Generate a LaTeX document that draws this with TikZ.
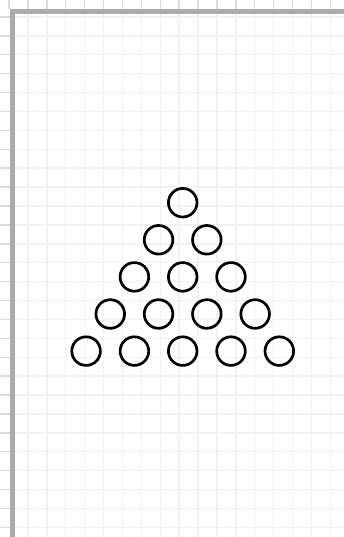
\documentclass[tikz,border=0pt]{standalone}
\begin{document}
\begin{tikzpicture}[x=1pt,y=-1pt,
  ball/.style={circle,draw=black,line width=2.7pt,minimum size=28.6pt,inner sep=0pt},
  gridline/.style={draw=black!5,line width=1.4pt},
  rulerline/.style={draw=black!14,line width=1.4pt}]
\useasboundingbox (0,0) rectangle (344,537);
\fill[white] (0,0) rectangle (344,537);
% interior grid
\foreach \k in {1,...,18} {\draw[gridline] ({9+18.9*\k},14) -- ({9+18.9*\k},537);}
\foreach \k in {0,...,27} {\draw[gridline] (15,{17+18.9*\k}) -- (344,{17+18.9*\k});}
% ruler strips
\foreach \k in {0,...,18} {\draw[rulerline] ({9+18.9*\k},0) -- ({9+18.9*\k},9);}
\foreach \k in {0,...,27} {\draw[rulerline] (0,{17+18.9*\k}) -- (10,{17+18.9*\k});}
% border
\draw[draw=black!33,line width=5pt] (12.5,537) -- (12.5,11.5) -- (344,11.5);
% balls
\foreach \r in {0,...,4} {
  \foreach \c in {0,...,\r} {
    \node[ball] (b\r\c) at ({182.7-24.15*\r+48.3*\c},{202.7+37.1*\r}) {};
  }
}
\end{tikzpicture}
\end{document}
